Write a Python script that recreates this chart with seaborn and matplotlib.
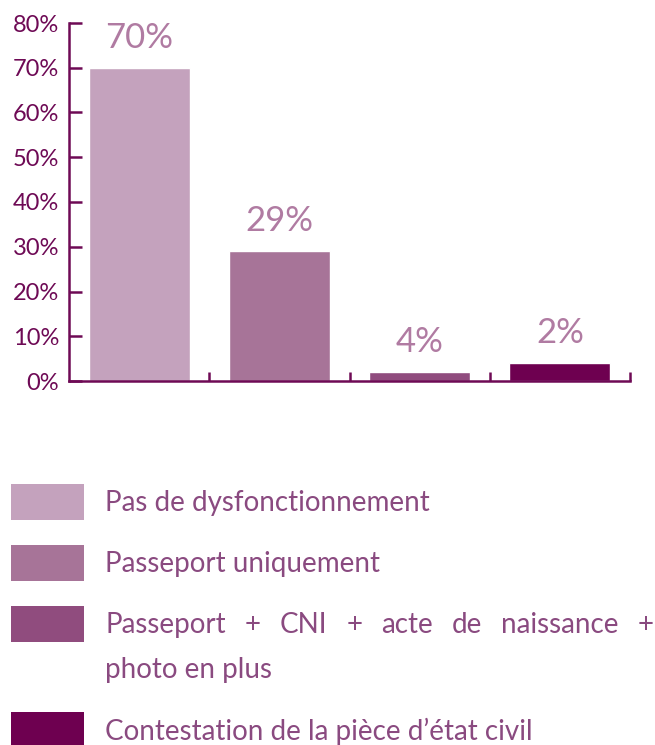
import matplotlib
matplotlib.use("Agg")
import matplotlib.pyplot as plt
from matplotlib.patches import Rectangle
import seaborn as sns
import pandas as pd

categories = ["Pas de dysfonctionnement", "Passeport uniquement",
              "Passeport + CNI + acte de naissance + photo en plus",
              "Contestation de la pièce d\u2019état civil"]
values = [70, 29, 2, 4]
value_labels = ["70%", "29%", "4%", "2%"]
bar_colors = ["#c4a2bd", "#a77498", "#904c7e", "#6e0050"]
ytick_values = [0, 10, 20, 30, 40, 50, 60, 70, 80]
ytick_labels = ["0%", "10%", "20%", "30%", "40%", "50%", "60%", "70%", "80%"]

sns.set_theme(style="white")
FONT = ["Lato", "DejaVu Sans"]
plt.rcParams["font.family"] = FONT

W, H = 655, 745
fig = plt.figure(figsize=(W / 100, H / 100), dpi=100)
ax = fig.add_axes([69 / W, 1 - 381 / H, (630 - 69) / W, (381 - 23) / H])

df = pd.DataFrame({"cat": categories, "val": values})
sns.barplot(data=df, x="cat", y="val", hue="cat", palette=bar_colors,
            width=0.72, legend=False, ax=ax, saturation=1)

axis_col = "#6e0a55"
ax.set_xlim(-0.5, 3.5)
ax.set_ylim(0, 80)
ax.set_yticks(ytick_values)
ax.set_yticklabels(ytick_labels)
ax.set_xticks([0.5, 1.5, 2.5, 3.5])
ax.set_xticklabels([])
ax.set_xlabel("")
ax.set_ylabel("")
for s in ["top", "right"]:
    ax.spines[s].set_visible(False)
for s in ["left", "bottom"]:
    ax.spines[s].set_color(axis_col)
    ax.spines[s].set_linewidth(1.8)
ax.tick_params(axis="y", direction="in", length=9.5, width=1.8, color=axis_col,
               labelcolor=axis_col, labelsize=17, pad=7, left=True)
ax.tick_params(axis="x", direction="in", length=6.5, width=1.8, color=axis_col,
               bottom=True)
ax.grid(False)

for i, (v, lab) in enumerate(zip(values, value_labels)):
    ax.annotate(lab, (i, v), xytext=(0, 14.5), textcoords="offset points",
                ha="center", va="baseline", fontsize=25, color="#b07ba2")

# Legend drawn manually
leg_text_col = "#8a4a80"
rows = [(484, 520, [503], [categories[0]]),
        (545, 581, [564], [categories[1]]),
        (606, 642, [625, 670], ["Passeport + CNI + acte de naissance +", "photo en plus"]),
        (712, 748, [731], [categories[3]])]
fig.canvas.draw()
renderer = fig.canvas.get_renderer()
for k, (y1, y2, ys, lines) in enumerate(rows):
    fig.add_artist(Rectangle((11 / W, 1 - y2 / H), 73 / W, (y2 - y1) / H,
                             transform=fig.transFigure, color=bar_colors[k], lw=0))
    for j, (yc, line) in enumerate(zip(ys, lines)):
        if k == 2 and j == 0:
            words = line.split(" ")
            widths = []
            for w in words:
                t = fig.text(0, 0, w, fontsize=20)
                widths.append(t.get_window_extent(renderer).width)
                t.remove()
            x0, x1 = 105, 654
            gap = (x1 - x0 - sum(widths)) / (len(words) - 1)
            x = x0
            for w, wd in zip(words, widths):
                fig.text(x / W, 1 - yc / H, w, fontsize=20, color=leg_text_col,
                         ha="left", va="center")
                x += wd + gap
        else:
            fig.text(105 / W, 1 - yc / H, line, fontsize=20, color=leg_text_col,
                     ha="left", va="center")

fig.savefig("out.png", dpi=100)
